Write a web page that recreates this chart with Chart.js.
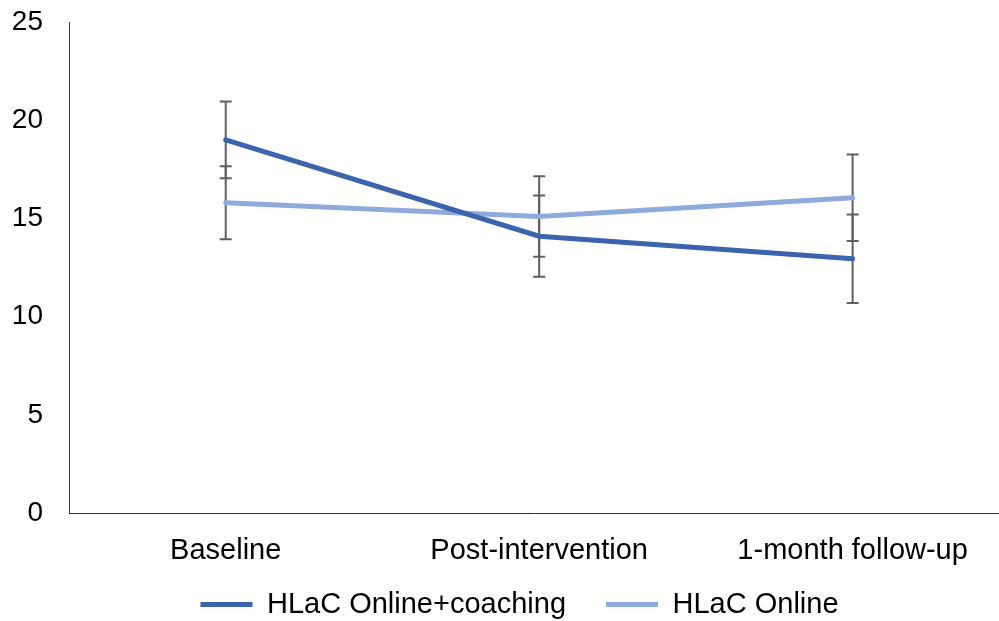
<!DOCTYPE html>
<html>
<head>
<meta charset="utf-8">
<script src="https://cdn.jsdelivr.net/npm/chart.js@4.4.1/dist/chart.umd.min.js"></script>
<style>
  html, body { margin: 0; padding: 0; background: #fff; }
  #wrap { width: 999px; height: 621px; }
</style>
</head>
<body>
<div id="wrap"><canvas id="lineChart"></canvas></div>
<script>
const categories = ['Baseline', 'Post-intervention', '1-month follow-up'];
const coachingMean = [19.0, 14.1, 12.95];
const coachingSd = [1.95, 2.07, 2.25];
const onlineMean = [15.8, 15.1, 16.05];
const onlineSd = [1.86, 2.05, 2.2];
const yTicks = [0, 5, 10, 15, 20, 25];

const toPoints = arr => arr.map((v, i) => ({ x: i, y: v }));

// error bars, drawn under the lines
const errorBars = {
  id: 'errorBars',
  beforeDatasetsDraw(chart) {
    const ctx = chart.ctx;
    const x = chart.scales.x, y = chart.scales.y;
    const sets = [[coachingMean, coachingSd], [onlineMean, onlineSd]];
    ctx.save();
    ctx.strokeStyle = '#5f5f5f';
    ctx.lineWidth = 2;
    sets.forEach(([m, sd]) => {
      m.forEach((v, i) => {
        const px = x.getPixelForValue(i);
        const top = y.getPixelForValue(v + sd[i]);
        const bot = y.getPixelForValue(v - sd[i]);
        ctx.beginPath();
        ctx.moveTo(px, top); ctx.lineTo(px, bot);
        ctx.moveTo(px - 6, top); ctx.lineTo(px + 6, top);
        ctx.moveTo(px - 6, bot); ctx.lineTo(px + 6, bot);
        ctx.stroke();
      });
    });
    ctx.restore();
  }
};

// pull the legend up, closer to the axis labels
const legendNudge = {
  id: 'legendNudge',
  afterLayout(chart) {
    chart.legend.top -= 38;
    chart.legend.bottom -= 38;
  }
};

const family = "'Liberation Sans', Arial, sans-serif";
const font = { family: family, size: 29 };

new Chart(document.getElementById('lineChart'), {
  type: 'line',
  data: {
    datasets: [{
      label: 'HLaC Online+coaching',
      data: toPoints(coachingMean),
      borderColor: '#3c63ae',
      backgroundColor: '#3c63ae',
      borderWidth: 5,
      borderCapStyle: 'round',
      pointRadius: 0,
      tension: 0
    }, {
      label: 'HLaC Online',
      data: toPoints(onlineMean),
      borderColor: '#8faadc',
      backgroundColor: '#8faadc',
      borderWidth: 5,
      borderCapStyle: 'round',
      pointRadius: 0,
      tension: 0
    }]
  },
  options: {
    responsive: true,
    maintainAspectRatio: false,
    animation: false,
    layout: { padding: { left: 0, top: 22, right: -40, bottom: -46 } },
    plugins: {
      legend: {
        position: 'bottom',
        labels: {
          font: font,
          color: '#000',
          usePointStyle: true,
          pointStyle: 'line',
          pointStyleWidth: 52,
          padding: 40
        }
      },
      tooltip: { enabled: false }
    },
    scales: {
      x: {
        type: 'linear',
        min: -0.5,
        max: 2.467,
        grid: { display: false, drawTicks: false },
        border: { display: true, color: '#333', width: 1 },
        afterBuildTicks: axis => { axis.ticks = categories.map((c, i) => ({ value: i })); },
        ticks: {
          font: font,
          color: '#000',
          padding: 20,
          maxRotation: 0,
          autoSkip: false,
          callback: v => categories[v]
        }
      },
      y: {
        min: 0,
        max: 25,
        grid: { display: false, drawTicks: false },
        border: { display: true, color: '#333', width: 1 },
        afterBuildTicks: axis => { axis.ticks = yTicks.map(v => ({ value: v })); },
        afterFit: s => { s.width = 69; s.paddingTop = 0; s.paddingBottom = 0; },
        ticks: { font: { family: family, size: 28 }, color: '#000', padding: 26 }
      }
    }
  },
  plugins: [errorBars, legendNudge]
});
</script>
</body>
</html>
